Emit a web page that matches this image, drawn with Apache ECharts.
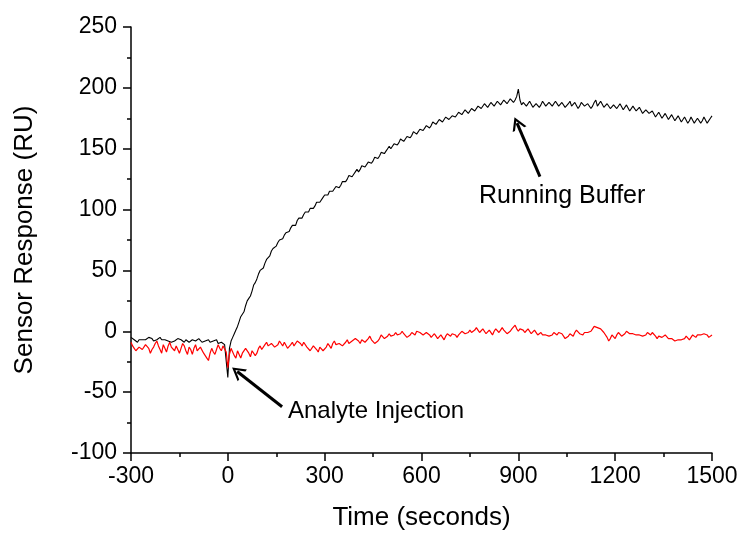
<!DOCTYPE html>
<html>
<head>
<meta charset="utf-8">
<script src="https://cdn.jsdelivr.net/npm/echarts@6/dist/echarts.min.js"></script>
<style>html,body{margin:0;padding:0;background:#fff}#c{width:742px;height:536px}</style>
</head>
<body>
<div id="c"></div>
<script>
// Sample times (seconds)
var times = [
-300,-295,-290,-285,-280,-275,-270,-265,-260,-255,-250,-245,-240,-235,-230,-225,-220,-215,-210,-205,
-200,-195,-190,-185,-180,-175,-170,-165,-160,-155,-150,-145,-140,-135,-130,-125,-120,-115,-110,-105,
-100,-95,-90,-85,-80,-75,-70,-65,-60,-55,-50,-45,-40,-35,-30,-25,-20,-15,-10,-5,
0,5,10,15,20,25,30,35,40,45,50,55,60,65,70,75,80,85,90,95,
100,105,110,115,120,125,130,135,140,145,150,155,160,165,170,175,180,185,190,195,
200,205,210,215,220,225,230,235,240,245,250,255,260,265,270,275,280,285,290,295,
300,305,310,315,320,325,330,335,340,345,350,355,360,365,370,375,380,385,390,395,
400,405,410,415,420,425,430,435,440,445,450,455,460,465,470,475,480,485,490,495,
500,505,510,515,520,525,530,535,540,545,550,555,560,565,570,575,580,585,590,595,
600,605,610,615,620,625,630,635,640,645,650,655,660,665,670,675,680,685,690,695,
700,705,710,715,720,725,730,735,740,745,750,755,760,765,770,775,780,785,790,795,
800,805,810,815,820,825,830,835,840,845,850,855,860,865,870,875,880,885,890,895,
900,905,910,915,920,925,930,935,940,945,950,955,960,965,970,975,980,985,990,995,
1000,1005,1010,1015,1020,1025,1030,1035,1040,1045,1050,1055,1060,1065,1070,1075,1080,1085,1090,1095,
1100,1105,1110,1115,1120,1125,1130,1135,1140,1145,1150,1155,1160,1165,1170,1175,1180,1185,1190,1195,
1200,1205,1210,1215,1220,1225,1230,1235,1240,1245,1250,1255,1260,1265,1270,1275,1280,1285,1290,1295,
1300,1305,1310,1315,1320,1325,1330,1335,1340,1345,1350,1355,1360,1365,1370,1375,1380,1385,1390,1395,
1400,1405,1410,1415,1420,1425,1430,1435,1440,1445,1450,1455,1460,1465,1470,1475,1480,1485,1490,1495,
1500];

// Black trace (analyte binding), RU
var blackValues = [
-5,-6,-7,-8,-9,-7,-6,-7,-8,-7,-6,-5,-5,-6,-8,-9,-7,-6,-5,-7,
-8,-7,-6,-8,-7,-9,-9,-8,-8,-6,-6,-7,-8,-9,-7,-6,-9,-8,-7,-8,
-8,-7,-6,-7,-9,-10,-8,-7,-7,-9,-9,-8,-8,-7,-10,-9,-9,-10,-11,-10,
-38,-14,-8,-5,-2,1,4,8,12,13,16,21,25,27,29,33,38,40,43,47,
50,50,52,56,59,60,62,66,68,69,70,73,75,75,76,79,81,81,82,85,
87,86,87,91,93,92,93,96,98,97,98,101,102,101,103,106,107,106,107,110,
112,111,112,115,116,115,116,119,120,118,120,123,124,123,125,128,129,127,129,131,
133,131,133,136,137,135,136,139,140,138,140,143,144,142,144,147,148,146,148,150,
152,150,152,154,155,153,155,158,158,156,158,160,161,159,161,164,164,162,163,166,
167,165,166,169,170,167,169,172,172,170,171,174,175,172,173,176,176,174,175,177,
178,176,177,180,181,178,179,182,182,179,180,183,184,181,182,185,186,183,184,187,
188,184,185,188,189,185,186,189,190,186,187,190,191,187,188,191,192,188,190,193,
199,190,186,188,189,185,186,189,188,184,185,187,188,184,186,189,189,185,185,188,
188,185,186,189,189,185,185,188,188,184,185,187,189,185,184,188,187,183,185,188,
188,185,184,187,187,183,185,188,190,185,186,189,188,184,184,187,187,183,183,186,
186,183,184,187,187,182,183,186,185,181,182,185,185,181,181,184,183,179,180,182,
182,179,178,181,181,176,177,180,179,175,176,179,178,174,175,178,177,173,174,177,
176,172,173,176,176,171,173,176,175,171,172,175,175,171,173,176,176,171,172,175,
177];

// Red trace (running buffer reference), RU
var redValues = [
-9,-12,-14,-16,-17,-13,-12,-15,-16,-11,-10,-14,-18,-15,-13,-10,-8,-12,-15,-18,
-11,-14,-17,-12,-9,-13,-14,-16,-12,-15,-18,-14,-10,-12,-16,-19,-13,-15,-19,-14,
-11,-16,-15,-13,-12,-18,-20,-22,-24,-18,-14,-17,-19,-15,-11,-14,-16,-12,-13,-17,
-30,-19,-14,-17,-20,-22,-16,-19,-22,-18,-17,-14,-13,-18,-21,-16,-15,-20,-18,-14,
-12,-15,-16,-11,-9,-12,-13,-10,-10,-13,-14,-11,-8,-10,-12,-9,-10,-14,-15,-11,
-9,-12,-11,-8,-7,-10,-12,-9,-9,-13,-13,-16,-15,-12,-11,-15,-17,-13,-13,-16,
-16,-13,-10,-12,-14,-10,-8,-11,-12,-10,-9,-12,-13,-9,-7,-10,-11,-8,-8,-6,
-5,-8,-10,-7,-6,-9,-9,-6,-4,-7,-8,-10,-11,-8,-6,-3,-4,-6,-7,-4,
-2,-4,-5,-3,-1,-3,-4,-2,0,-2,-3,-5,-6,-3,-1,-2,-3,0,1,-1,
-2,-3,-4,-1,0,-3,-5,-4,-2,-4,-6,-5,-3,-5,-7,-4,-2,-3,-4,-2,
-1,-3,-5,-3,-2,0,0,-2,-3,-1,1,-1,-2,1,3,1,-1,0,2,1,
-2,-1,1,2,-3,0,2,1,-1,1,3,1,0,-2,-2,0,2,3,5,2,
0,2,3,1,-1,0,2,3,-2,-1,1,0,-3,-2,-1,-3,-4,-3,-2,-4,
-5,-3,-1,-2,-3,-1,0,-2,-4,-6,-7,-4,-2,-3,-4,-1,1,0,-2,-3,
-3,-1,0,-1,-2,0,2,4,5,3,3,2,1,-1,-2,-5,-8,-6,-3,-4,
-6,-3,-1,-2,-4,-3,-2,0,0,-2,-3,-2,-1,-3,-4,-3,-2,-4,-5,-3,
-1,-2,-3,-1,-2,-4,-6,-4,-3,-5,-5,-3,-4,-6,-7,-6,-5,-8,-9,-7,
-6,-7,-8,-6,-4,-5,-7,-5,-3,-4,-5,-3,-2,-3,-4,-2,-1,-3,-5,-4,
-3];

var xTicks = [-300, 0, 300, 600, 900, 1200, 1500];
var yTicks = [-100, -50, 0, 50, 100, 150, 200, 250];

function pairs(xs, ys){ var out=[]; for (var i=0;i<xs.length;i++) out.push([xs[i], ys[i]]); return out; }

var FONT = '"Liberation Sans", Arial, sans-serif';
var chevron = 'path://M0,12 L6,0 L12,12 L10,12 L6,4 L2,12 Z';

var chart = echarts.init(document.getElementById('c'), null, {renderer:'canvas'});
chart.setOption({
  animation: false,
  backgroundColor: '#fff',
  grid: {left: 131, right: 30, top: 27, bottom: 81, containLabel: false},
  xAxis: {
    type: 'value', min: xTicks[0], max: xTicks[xTicks.length-1], interval: 300,
    name: 'Time (seconds)', nameLocation: 'middle', nameGap: 52,
    nameTextStyle: {fontFamily: FONT, fontSize: 26, color: '#000'},
    axisLine: {show: true, onZero: false, lineStyle: {color: '#000', width: 1.5}},
    axisTick: {show: true, length: 8, inside: false, lineStyle: {color: '#000', width: 1.5}},
    minorTick: {show: true, splitNumber: 2, length: 4, lineStyle: {color: '#000', width: 1.5}},
    axisLabel: {fontFamily: FONT, fontSize: 23, color: '#000', margin: 12,
      formatter: function (v) { return String(v); }},
    splitLine: {show: false}
  },
  yAxis: {
    type: 'value', min: yTicks[0], max: yTicks[yTicks.length-1], interval: 50,
    name: 'Sensor Response (RU)', nameLocation: 'middle', nameGap: 93,
    nameTextStyle: {fontFamily: FONT, fontSize: 26, color: '#000'},
    axisLine: {show: true, onZero: false, lineStyle: {color: '#000', width: 1.5}},
    axisTick: {show: true, length: 8, inside: false, lineStyle: {color: '#000', width: 1.5}},
    minorTick: {show: true, splitNumber: 2, length: 4, lineStyle: {color: '#000', width: 1.5}},
    axisLabel: {fontFamily: FONT, fontSize: 23, color: '#000', margin: 14,
      formatter: function (v) { return String(v); }},
    splitLine: {show: false}
  },
  series: [
    {
      type: 'line', name: 'Sample', data: pairs(times, blackValues), showSymbol: false,
      lineStyle: {color: '#000', width: 1.1}, itemStyle: {color: '#000'}, z: 2,
      markLine: {
        silent: true, symbol: ['none', chevron], symbolSize: [15, 13], animation: false,
        label: {show: false},
        lineStyle: {color: '#000', width: 3, type: 'solid'},
        data: [
          [{coord: [168, -62]}, {coord: [29, -33]}],
          [{coord: [967, 127]}, {coord: [896, 171]}]
        ]
      }
    },
    {
      type: 'line', name: 'Reference', data: pairs(times, redValues), showSymbol: false,
      lineStyle: {color: '#ff0000', width: 1.2}, itemStyle: {color: '#ff0000'}, z: 3
    }
  ],
  graphic: [
    {type: 'text', left: 479, top: 184, style: {text: 'Running Buffer', font: '25px ' + FONT, fill: '#000'}},
    {type: 'text', left: 288, top: 399, style: {text: 'Analyte Injection', font: '24px ' + FONT, fill: '#000'}}
  ]
});
</script>
</body>
</html>
